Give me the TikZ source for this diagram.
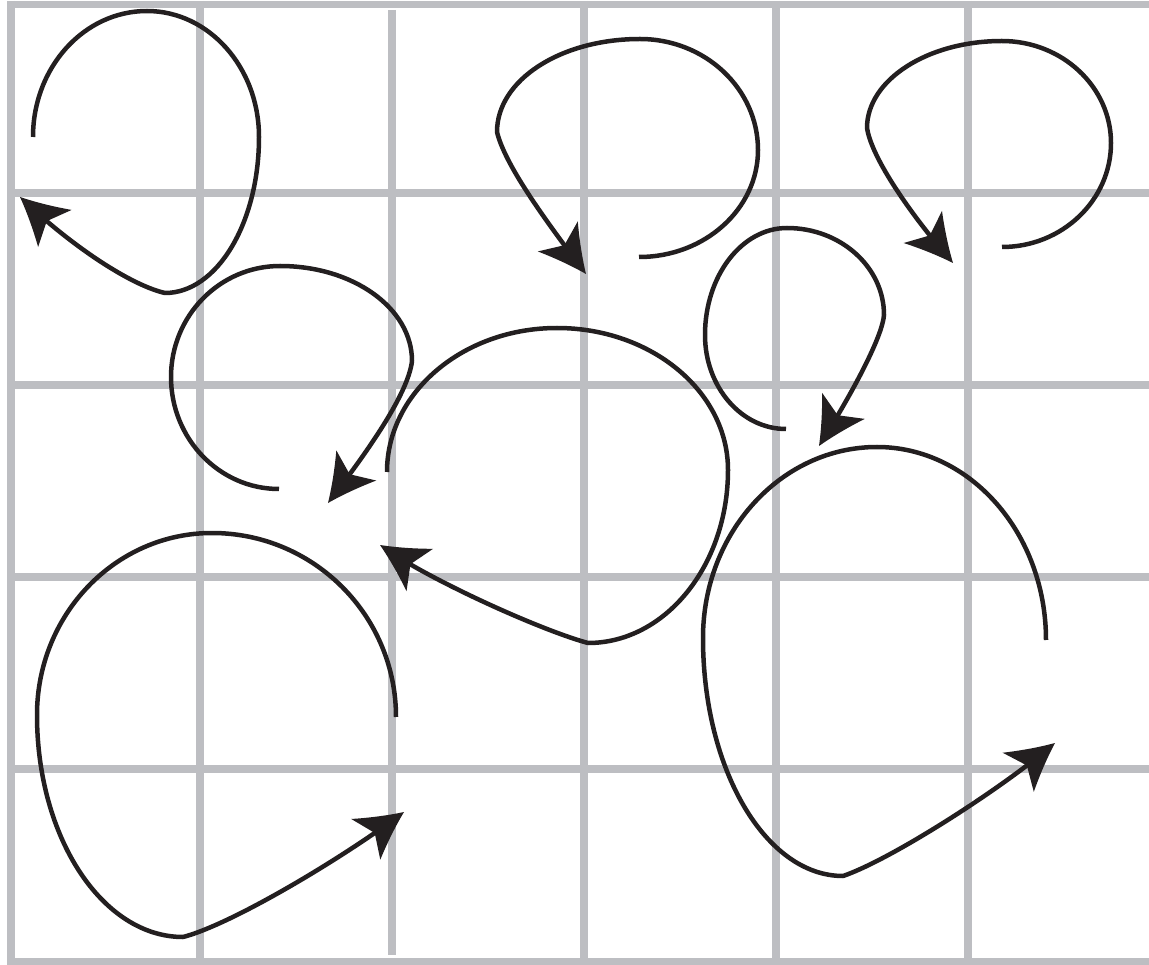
\documentclass[tikz,border=0pt]{standalone}
\usetikzlibrary{arrows.meta,bending}
\definecolor{gridgray}{RGB}{189,190,194}
\definecolor{ink}{RGB}{35,31,32}
\pgfdeclarearrow{
  name = CurlyStealth,
  setup code = {
    \pgfarrowssettipend{0pt}
    \pgfarrowssetlineend{-30pt}
    \pgfarrowssetbackend{-47pt}
    \pgfarrowssetvisualbackend{-36pt}
    \pgfarrowshullpoint{0pt}{0pt}
    \pgfarrowsupperhullpoint{-47pt}{25pt}
  },
  drawing code = {
    \pgfsetfillcolor{ink}
    \pgfpathmoveto{\pgfqpoint{0pt}{0pt}}
    \pgfpathcurveto{\pgfqpoint{-15pt}{6.5pt}}{\pgfqpoint{-31pt}{15pt}}{\pgfqpoint{-47pt}{25pt}}
    \pgfpathlineto{\pgfqpoint{-36pt}{0pt}}
    \pgfpathlineto{\pgfqpoint{-47pt}{-25pt}}
    \pgfpathcurveto{\pgfqpoint{-31pt}{-15pt}}{\pgfqpoint{-15pt}{-6.5pt}}{\pgfqpoint{0pt}{0pt}}
    \pgfpathclose
    \pgfusepathqfill
  }
}
\tikzset{
  gridline/.style={draw=gridgray, line width=7.5pt},
  curl/.style={draw=ink, line width=4.5pt, line join=round, -{CurlyStealth}}
}
\begin{document}
\begin{tikzpicture}[x=1pt,y=-1pt]
\useasboundingbox (0,0) rectangle (1149,965);
% grid
\foreach \y in {4.5,193,385,577,769,961.5} \draw[gridline] (7,\y) -- (1149,\y);
\foreach \x in {11,200,584,776,968} \draw[gridline] (\x,1) -- (\x,965);
\draw[gridline] (392,10) -- (392,955);
% curve 1 (top left)
\draw[curl] (33,137) .. controls (33,67.4) and (84,11) .. (147,11)
  .. controls (208.8,11) and (259,67.4) .. (259,137)
  .. controls (259,223) and (217,293) .. (165,293)
  .. controls (130,285) and (70,245) .. (20,197);
% curve 2 (top middle)
\draw[curl] (639,257) .. controls (704.7,257) and (758,209) .. (758,150)
  .. controls (758,88.7) and (705,39) .. (640,39)
  .. controls (561,39) and (497,79.8) .. (497,132)
  .. controls (505,165) and (545,220) .. (586,274);
% curve 3 (top right)
\draw[curl] (1002,247) .. controls (1062,247) and (1111,200.4) .. (1111,143)
  .. controls (1111,86.7) and (1062,41) .. (1002,41)
  .. controls (927.5,41) and (867,80) .. (867,128)
  .. controls (872,160) and (915,220) .. (953,263);
% curve 4 (second row, left)
\draw[curl] (279,489) .. controls (219.4,489) and (171,438.8) .. (171,377)
  .. controls (171,315.7) and (219.8,266) .. (280,266)
  .. controls (352.9,266) and (412,308) .. (412,361)
  .. controls (408,395) and (365,455) .. (328,503);
% curve 5 (centre)
\draw[curl] (387,472) .. controls (387,392.5) and (463.2,328) .. (557,328)
  .. controls (651.4,328) and (728,391.6) .. (728,470)
  .. controls (728,565.5) and (665.3,643) .. (588,643)
  .. controls (540,630) and (425,578) .. (380,545);
% curve 6 (small, right)
\draw[curl] (786,429) .. controls (741.3,429) and (705,386.9) .. (705,335)
  .. controls (705,275.9) and (741.7,228) .. (787,228)
  .. controls (840.5,228) and (884,267) .. (884,315)
  .. controls (882,340) and (845,405) .. (819,446);
% curve 7 (bottom right)
\draw[curl] (1046,640) .. controls (1046,533.5) and (970.3,447) .. (877,447)
  .. controls (781,447) and (703,532.6) .. (703,638)
  .. controls (703,769.4) and (765.7,876) .. (843,876)
  .. controls (890,860) and (1000,790) .. (1055,743);
% curve 8 (bottom left)
\draw[curl] (396,717) .. controls (396,615.4) and (313.6,533) .. (212,533)
  .. controls (115.4,533) and (37,614.5) .. (37,715)
  .. controls (37,837.5) and (102.4,937) .. (183,937)
  .. controls (230,925) and (340,860) .. (404,812);
\end{tikzpicture}
\end{document}
